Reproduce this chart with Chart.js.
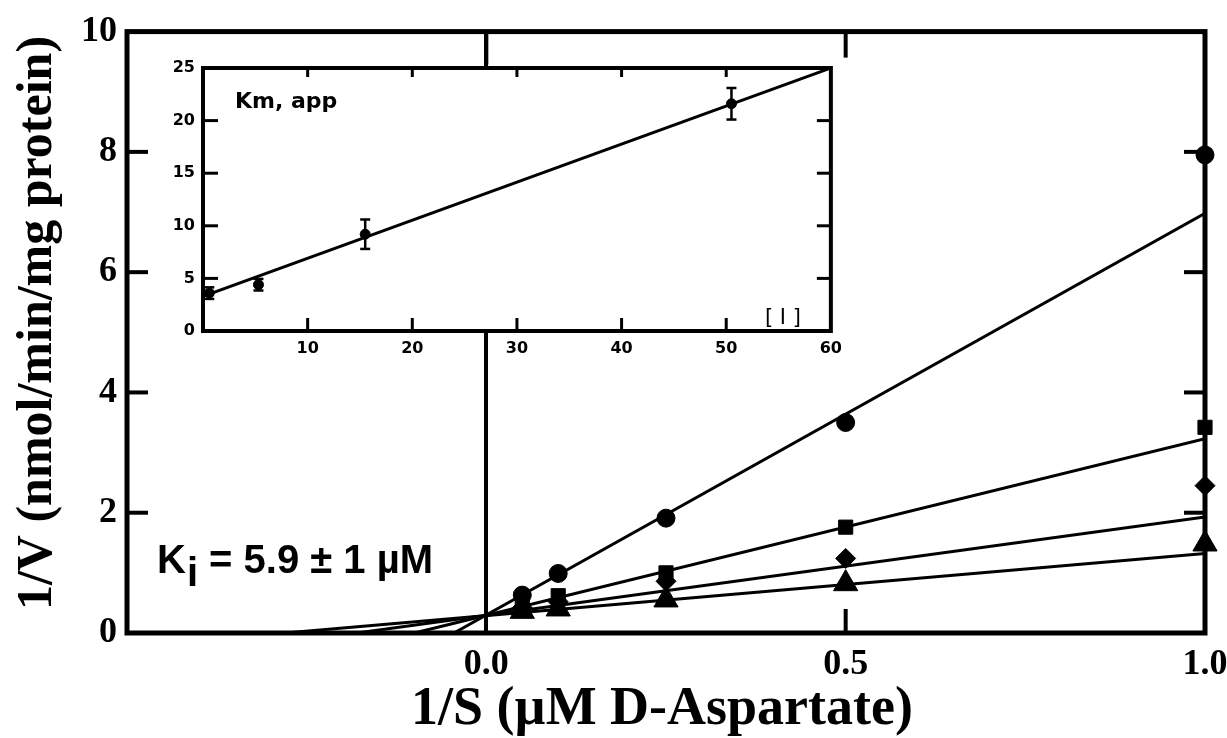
<!DOCTYPE html>
<html>
<head>
<meta charset="utf-8">
<script src="https://cdn.jsdelivr.net/npm/chart.js@4.4.1/dist/chart.umd.min.js"></script>
<style>
  html, body { margin: 0; padding: 0; background: #fff; }
  #wrap { position: relative; width: 1227px; height: 738px; }
  #main { position: absolute; left: 0; top: 0; }
  #inset { position: absolute; left: 140px; top: 50px; }
</style>
</head>
<body>
<div id="wrap">
  <canvas id="main" width="1227" height="738"></canvas>
  <canvas id="inset" width="710" height="310"></canvas>
</div>
<script>
// substrate levels as 1/S (uM^-1)
const invS = [0.05, 0.1, 0.25, 0.5, 1.0];

// 1/V for each inhibitor level
const circleVals   = [0.63, 0.99, 1.91, 3.50, 7.95];
const squareVals   = [0.46, 0.62, 1.00, 1.76, 3.42];
const diamondVals  = [0.42, 0.52, 0.86, 1.24, 2.45];
const triangleVals = [0.36, 0.40, 0.55, 0.82, 1.48];

// fitted lines: where each meets 1/V = 0, and its value at 1/S = 1.0
const fitX0 = [-0.045, -0.10, -0.18, -0.28];
const fitY1 = [6.98, 3.23, 1.93, 1.32];

const xTicks = [-0.5, 0.0, 0.5, 1.0];
const yTicks = [0, 2, 4, 6, 8, 10];

// replot: apparent Km vs [I]
const insetX = [0.6, 5.3, 15.5, 50.5];
const insetY = [3.6, 4.4, 9.2, 21.6];
const insetErr = [0.55, 0.55, 1.4, 1.5];
const insetFitX = [0, 60];
const insetFitY = [3.3, 25];
const insetXTicks = [0, 10, 20, 30, 40, 50, 60];
const insetYTicks = [0, 5, 10, 15, 20, 25];

const BLACK = '#000';
const serifBold = (size) => ({ family: '"Liberation Serif", "Times New Roman", serif', size: size, weight: 'bold' });
const sansBold = (size) => ({ family: '"DejaVu Sans", Verdana, sans-serif', size: size, weight: 'bold' });

function pts(xs, ys) { return xs.map((x, i) => ({ x: x, y: ys[i] })); }

function line(ctx, x1, y1, x2, y2) {
  ctx.beginPath();
  ctx.moveTo(x1, y1);
  ctx.lineTo(x2, y2);
  ctx.stroke();
}

const markerSets = [
  { vals: circleVals, style: 'circle', r: 9 },
  { vals: squareVals, style: 'rect', r: 10 },
  { vals: diamondVals, style: 'rectRot', r: 10 },
  { vals: triangleVals, style: 'triangle', r: 14 }
];

const datasets = [];
fitX0.forEach((x0, i) => {
  datasets.push({
    data: [{ x: x0, y: 0 }, { x: 1.0, y: fitY1[i] }],
    showLine: true, borderColor: BLACK, borderWidth: 3, pointRadius: 0
  });
});
markerSets.forEach(m => {
  datasets.push({
    data: pts(invS, m.vals),
    showLine: false, pointStyle: m.style, pointRadius: m.r, clip: false,
    backgroundColor: BLACK, borderColor: BLACK, borderWidth: 1
  });
});

// frame, inward ticks, axis titles and the Ki note
const mainDecor = {
  id: 'mainDecor',
  afterDraw(chart) {
    const { ctx, chartArea: a, scales: { x, y } } = chart;
    ctx.save();
    ctx.strokeStyle = BLACK;
    ctx.lineWidth = 5;
    ctx.strokeRect(a.left, a.top, a.right - a.left, a.bottom - a.top);

    ctx.lineWidth = 4;
    yTicks.slice(1, -1).forEach(v => {
      const py = y.getPixelForValue(v);
      line(ctx, a.left, py, a.left + 21, py);
      line(ctx, a.right, py, a.right - 21, py);
    });
    const px0 = x.getPixelForValue(0);
    line(ctx, px0, a.top, px0, a.top + 33);
    const px = x.getPixelForValue(0.5);
    line(ctx, px, a.top, px, a.top + 26);
    line(ctx, px, a.bottom, px, a.bottom - 24);

    ctx.fillStyle = BLACK;
    ctx.textAlign = 'center';
    ctx.textBaseline = 'middle';
    ctx.font = 'bold 54px "Liberation Serif", serif';
    ctx.fillText('1/S (\u00b5M D-Aspartate)', 662, 710);

    ctx.save();
    ctx.translate(38, 323);
    ctx.rotate(-Math.PI / 2);
    ctx.font = 'bold 50px "Liberation Serif", serif';
    ctx.fillText('1/V (nmol/min/mg protein)', 0, 0);
    ctx.restore();

    ctx.textAlign = 'left';
    ctx.textBaseline = 'alphabetic';
    ctx.font = 'bold 40px "Liberation Sans", Arial, sans-serif';
    let tx = 157;
    ctx.fillText('K', tx, 573);
    tx += ctx.measureText('K').width + 1;
    ctx.fillText('i', tx, 586);
    tx += ctx.measureText('i').width;
    ctx.fillText(' = 5.9 \u00b1 1 \u00b5M', tx, 573);
    ctx.restore();
  }
};

new Chart(document.getElementById('main'), {
  type: 'scatter',
  data: { datasets: datasets },
  options: {
    responsive: false,
    animation: false,
    layout: { padding: { top: 30, right: 22 } },
    plugins: { legend: { display: false }, tooltip: { enabled: false } },
    scales: {
      x: {
        type: 'linear', min: xTicks[0], max: xTicks[xTicks.length - 1],
        afterBuildTicks: s => { s.ticks = xTicks.map(v => ({ value: v })); },
        ticks: {
          color: BLACK, font: serifBold(36), padding: 10, maxRotation: 0, autoSkip: false,
          callback: v => (v < 0 ? '' : v.toFixed(1))
        },
        grid: {
          drawTicks: false, lineWidth: 4,
          color: c => (c.tick && c.tick.value === 0 ? BLACK : 'rgba(0,0,0,0)')
        },
        border: { display: false },
        afterFit: s => { s.height = 105; s.paddingRight = 0; s.paddingLeft = 0; }
      },
      y: {
        type: 'linear', min: yTicks[0], max: yTicks[yTicks.length - 1],
        afterBuildTicks: s => { s.ticks = yTicks.map(v => ({ value: v })); },
        ticks: { color: BLACK, font: serifBold(36), padding: 10 },
        grid: { display: false, drawTicks: false },
        border: { display: false },
        afterFit: s => { s.width = 127; }
      }
    }
  },
  plugins: [mainDecor]
});

// inset: white panel, frame, ticks, error bars, labels
const insetDecor = {
  id: 'insetDecor',
  beforeDraw(chart) {
    const { ctx, chartArea: a } = chart;
    ctx.save();
    ctx.fillStyle = '#fff';
    ctx.fillRect(a.left, a.top, a.right - a.left, a.bottom - a.top);
    ctx.restore();
  },
  afterDatasetsDraw(chart) {
    const { ctx, scales: { x, y } } = chart;
    ctx.save();
    ctx.strokeStyle = BLACK;
    ctx.lineWidth = 2.5;
    insetX.forEach((v, i) => {
      const px = x.getPixelForValue(v);
      const hi = y.getPixelForValue(insetY[i] + insetErr[i]);
      const lo = y.getPixelForValue(insetY[i] - insetErr[i]);
      line(ctx, px, hi, px, lo);
      line(ctx, px - 5, hi, px + 5, hi);
      line(ctx, px - 5, lo, px + 5, lo);
    });
    ctx.restore();
  },
  afterDraw(chart) {
    const { ctx, chartArea: a, scales: { x, y } } = chart;
    ctx.save();
    ctx.strokeStyle = BLACK;
    ctx.lineWidth = 4;
    ctx.strokeRect(a.left, a.top, a.right - a.left, a.bottom - a.top);
    ctx.lineWidth = 3;
    insetYTicks.slice(1, -1).forEach(v => {
      const py = y.getPixelForValue(v);
      line(ctx, a.left, py, a.left + 15, py);
      line(ctx, a.right, py, a.right - 14, py);
    });
    insetXTicks.slice(1, -1).forEach(v => {
      const px = x.getPixelForValue(v);
      line(ctx, px, a.bottom, px, a.bottom - 13);
      line(ctx, px, a.top, px, a.top + 9);
    });
    ctx.fillStyle = BLACK;
    ctx.textBaseline = 'alphabetic';
    ctx.textAlign = 'left';
    ctx.font = 'bold 22px "DejaVu Sans", sans-serif';
    ctx.fillText('Km, app', a.left + 32, a.top + 40);
    ctx.font = '21px "DejaVu Sans", sans-serif';
    ctx.fillText('[ I ]', a.left + 562, a.bottom - 7);
    ctx.restore();
  }
};

new Chart(document.getElementById('inset'), {
  type: 'scatter',
  data: {
    datasets: [
      {
        data: pts(insetFitX, insetFitY),
        showLine: true, borderColor: BLACK, borderWidth: 3, pointRadius: 0
      },
      {
        data: pts(insetX, insetY),
        showLine: false, pointStyle: 'circle', pointRadius: 5, clip: false,
        backgroundColor: BLACK, borderColor: BLACK
      }
    ]
  },
  options: {
    responsive: false,
    animation: false,
    layout: { padding: { top: 18, right: 17 } },
    plugins: { legend: { display: false }, tooltip: { enabled: false } },
    scales: {
      x: {
        type: 'linear', min: insetXTicks[0], max: insetXTicks[insetXTicks.length - 1],
        afterBuildTicks: s => { s.ticks = insetXTicks.map(v => ({ value: v })); },
        ticks: {
          color: BLACK, font: sansBold(16), padding: 8, maxRotation: 0, autoSkip: false,
          callback: v => (v === 0 ? '' : String(v))
        },
        grid: { display: false, drawTicks: false },
        border: { display: false },
        afterFit: s => { s.height = 29; }
      },
      y: {
        type: 'linear', min: insetYTicks[0], max: insetYTicks[insetYTicks.length - 1],
        afterBuildTicks: s => { s.ticks = insetYTicks.map(v => ({ value: v })); },
        ticks: { color: BLACK, font: sansBold(16), padding: 8 },
        grid: { display: false, drawTicks: false },
        border: { display: false },
        afterFit: s => { s.width = 63; }
      }
    }
  },
  plugins: [insetDecor]
});
</script>
</body>
</html>
